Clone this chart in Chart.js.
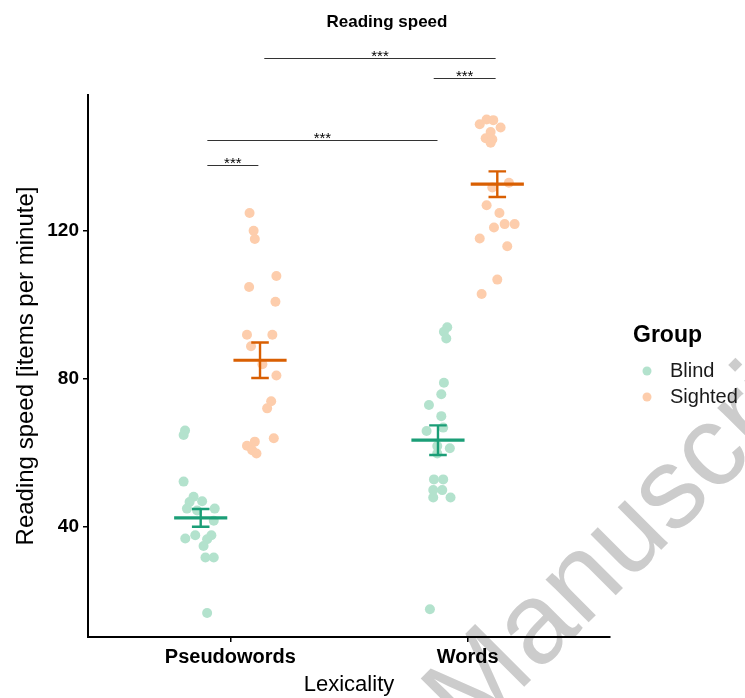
<!DOCTYPE html>
<html>
<head>
<meta charset="utf-8">
<title>Reading speed</title>
<script src="https://cdn.jsdelivr.net/npm/chart.js@4.4.1/dist/chart.umd.min.js"></script>
<style>
  html, body { margin: 0; padding: 0; background: #fff; }
  #wrap { width: 745px; height: 698px; position: relative; }
</style>
</head>
<body>
<div id="wrap"><canvas id="speedChart" width="745" height="698"></canvas></div>
<script>
// categories on the x axis and the two groups
const categories = ['Pseudowords', 'Words'];
const groups = ['Blind', 'Sighted'];

// individual participants: [jittered category position, items per minute]
const blindPoints = [
    [0.809, 66.1], [0.803, 64.9], [0.803, 52.3], [0.845, 48.2], [0.881, 47.0],
    [0.828, 46.8], [0.817, 45.0], [0.934, 45.0], [0.860, 44.5], [0.930, 41.7],
    [0.852, 37.8], [0.920, 37.8], [0.810, 36.9], [0.902, 36.7], [0.887, 34.9],
    [0.895, 31.8], [0.930, 31.8], [0.902, 16.8],
    [1.914, 94.0], [1.900, 92.8], [1.910, 91.0], [1.900, 79.0], [1.889, 75.9],
    [1.837, 73.0], [1.889, 70.0], [1.827, 66.0], [1.897, 66.9], [1.872, 61.9],
    [1.925, 61.3], [1.872, 59.9], [1.858, 52.9], [1.897, 52.9], [1.855, 50.0],
    [1.893, 50.0], [1.855, 48.0], [1.928, 48.0], [1.841, 17.8]
];
const sightedPoints = [
    [1.081, 124.9], [1.098, 120.1], [1.103, 117.9], [1.194, 107.9], [1.079, 104.9],
    [1.190, 100.9], [1.070, 92.0], [1.177, 92.0], [1.087, 88.9], [1.135, 84.0],
    [1.194, 81.0], [1.172, 74.0], [1.155, 72.1], [1.183, 64.0], [1.103, 63.1],
    [1.070, 62.0], [1.092, 60.8], [1.110, 59.9],
    [2.051, 148.9], [2.080, 150.2], [2.108, 150.0], [2.139, 148.0], [2.097, 146.8],
    [2.076, 145.1], [2.104, 144.8], [2.097, 143.9], [2.174, 133.1], [2.104, 131.8],
    [2.080, 127.0], [2.134, 124.9], [2.111, 121.0], [2.156, 121.9], [2.198, 121.9],
    [2.051, 118.0], [2.167, 115.9], [2.125, 106.9], [2.059, 103.0]
];

// group means and standard errors per category
const blindMeans = [42.5, 63.5];
const blindSE = [2.4, 4.0];
const sightedMeans = [85.1, 132.7];
const sightedSE = [4.8, 3.45];

const yTicks = [40, 80, 120];

// significance brackets
const bracketFrom = [0.903, 0.903, 1.143, 1.857];
const bracketTo = [1.118, 1.873, 2.118, 2.118];
const bracketY = [138.0, 144.6, 166.7, 161.3];
const bracketLabels = ['***', '***', '***', '***'];

const FONT = 'Liberation Sans, Arial, Helvetica, sans-serif';
const colors = {
    Blind: { dot: '#B3E2CD', line: '#1B9E77' },
    Sighted: { dot: '#FDCDAC', line: '#D95F02' }
};
const dodge = 0.125;
const meanHalf = 0.112;
const capHalf = 0.037;

// horizontal mean segments, one per category
function meanSegments(means, side) {
    const out = [];
    means.forEach((m, i) => {
        const cx = i + 1 + side * dodge;
        out.push({ x: cx - meanHalf, y: m }, { x: cx + meanHalf, y: m }, { x: cx, y: null });
    });
    return out;
}

// vertical error bars with caps
function errorSegments(means, se, side) {
    const out = [];
    means.forEach((m, i) => {
        const cx = i + 1 + side * dodge;
        const hi = m + se[i], lo = m - se[i];
        out.push({ x: cx, y: lo }, { x: cx, y: hi }, { x: cx, y: null });
        out.push({ x: cx - capHalf, y: hi }, { x: cx + capHalf, y: hi }, { x: cx, y: null });
        out.push({ x: cx - capHalf, y: lo }, { x: cx + capHalf, y: lo }, { x: cx, y: null });
    });
    return out;
}

const toXY = arr => arr.map(p => ({ x: p[0], y: p[1] }));

// faint rotated text behind everything
const watermark = {
    id: 'watermark',
    beforeDraw(chart) {
        const ctx = chart.ctx;
        ctx.save();
        ctx.translate(470, 741);
        ctx.rotate(-Math.PI / 4);
        ctx.font = '115px ' + FONT;
        ctx.fillStyle = 'rgb(204,204,204)';
        ctx.textBaseline = 'alphabetic';
        ctx.fillText('Manuscript', 0, 0);
        ctx.restore();
    }
};

// title, brackets and the group legend
const decorations = {
    id: 'decorations',
    afterDraw(chart) {
        const ctx = chart.ctx;
        const xs = chart.scales.x, ys = chart.scales.y;
        ctx.save();

        ctx.fillStyle = '#000';
        ctx.font = 'bold 17px ' + FONT;
        ctx.textAlign = 'center';
        ctx.textBaseline = 'middle';
        ctx.fillText('Reading speed', 387, 22);

        ctx.strokeStyle = '#333';
        ctx.lineWidth = 1;
        bracketY.forEach((v, i) => {
            const x1 = xs.getPixelForValue(bracketFrom[i]);
            const x2 = xs.getPixelForValue(bracketTo[i]);
            const y = Math.round(ys.getPixelForValue(v)) + 0.5;
            ctx.beginPath();
            ctx.moveTo(x1, y);
            ctx.lineTo(x2, y);
            ctx.stroke();
            ctx.font = '15px ' + FONT;
            ctx.textBaseline = 'alphabetic';
            ctx.fillStyle = '#000';
            ctx.fillText(bracketLabels[i], (x1 + x2) / 2, y + 2);
        });

        ctx.textAlign = 'left';
        ctx.textBaseline = 'middle';
        ctx.font = 'bold 23px ' + FONT;
        ctx.fillStyle = '#000';
        ctx.fillText('Group', 633, 336);
        groups.forEach((g, i) => {
            const y = 371 + i * 26;
            ctx.beginPath();
            ctx.arc(647, y, 4.5, 0, Math.PI * 2);
            ctx.fillStyle = colors[g].dot;
            ctx.fill();
            ctx.font = '20px ' + FONT;
            ctx.fillStyle = '#1a1a1a';
            ctx.fillText(g, 670, y);
        });
        ctx.restore();
    }
};

document.addEventListener('DOMContentLoaded', () => {
    const ctx = document.getElementById('speedChart').getContext('2d');

    new Chart(ctx, {
        data: {
            datasets: [
                { type: 'line', label: 'Blind mean', data: meanSegments(blindMeans, -1),
                  borderColor: colors.Blind.line, borderWidth: 3.2, pointRadius: 0, spanGaps: false, order: 0 },
                { type: 'line', label: 'Blind SE', data: errorSegments(blindMeans, blindSE, -1),
                  borderColor: colors.Blind.line, borderWidth: 2.4, pointRadius: 0, spanGaps: false, order: 0 },
                { type: 'line', label: 'Sighted mean', data: meanSegments(sightedMeans, 1),
                  borderColor: colors.Sighted.line, borderWidth: 3.2, pointRadius: 0, spanGaps: false, order: 0 },
                { type: 'line', label: 'Sighted SE', data: errorSegments(sightedMeans, sightedSE, 1),
                  borderColor: colors.Sighted.line, borderWidth: 2.4, pointRadius: 0, spanGaps: false, order: 0 },
                { type: 'scatter', label: 'Blind', data: toXY(blindPoints),
                  backgroundColor: colors.Blind.dot, pointRadius: 5, pointBorderWidth: 0, order: 1 },
                { type: 'scatter', label: 'Sighted', data: toXY(sightedPoints),
                  backgroundColor: colors.Sighted.dot, pointRadius: 5, pointBorderWidth: 0, order: 1 }
            ]
        },
        options: {
            responsive: false,
            animation: false,
            layout: { padding: { top: 95, right: 135, left: 0, bottom: 0 } },
            plugins: {
                legend: { display: false },
                tooltip: { enabled: false }
            },
            scales: {
                x: {
                    type: 'linear',
                    min: 0.4,
                    max: 2.6,
                    afterFit: s => { s.height = 61; },
                    afterBuildTicks: s => { s.ticks = [1, 2].map(v => ({ value: v })); },
                    ticks: {
                        callback: v => categories[v - 1],
                        color: '#000',
                        font: { family: FONT, size: 20, weight: 'bold' },
                        padding: 3,
                        maxRotation: 0
                    },
                    grid: { drawOnChartArea: false, drawTicks: true, tickLength: 5, color: '#000', lineWidth: 1.5 },
                    border: { display: true, color: '#000', width: 2 },
                    title: {
                        display: true,
                        text: 'Lexicality',
                        color: '#000',
                        font: { family: FONT, size: 22 },
                        padding: { top: 2, bottom: 0 }
                    }
                },
                y: {
                    type: 'linear',
                    min: 10.3,
                    max: 156.8,
                    afterFit: s => { s.width = 88; },
                    afterBuildTicks: s => { s.ticks = yTicks.map(v => ({ value: v })); },
                    ticks: {
                        color: '#000',
                        font: { family: FONT, size: 19, weight: 'bold' },
                        padding: 4
                    },
                    grid: { drawOnChartArea: false, drawTicks: true, tickLength: 5, color: '#000', lineWidth: 1.5 },
                    border: { display: true, color: '#000', width: 2 },
                    title: {
                        display: true,
                        text: 'Reading speed [items per minute]',
                        color: '#000',
                        font: { family: FONT, size: 24 },
                        padding: { top: 12, bottom: 0 }
                    }
                }
            }
        },
        plugins: [watermark, decorations]
    });
});
</script>
</body>
</html>
